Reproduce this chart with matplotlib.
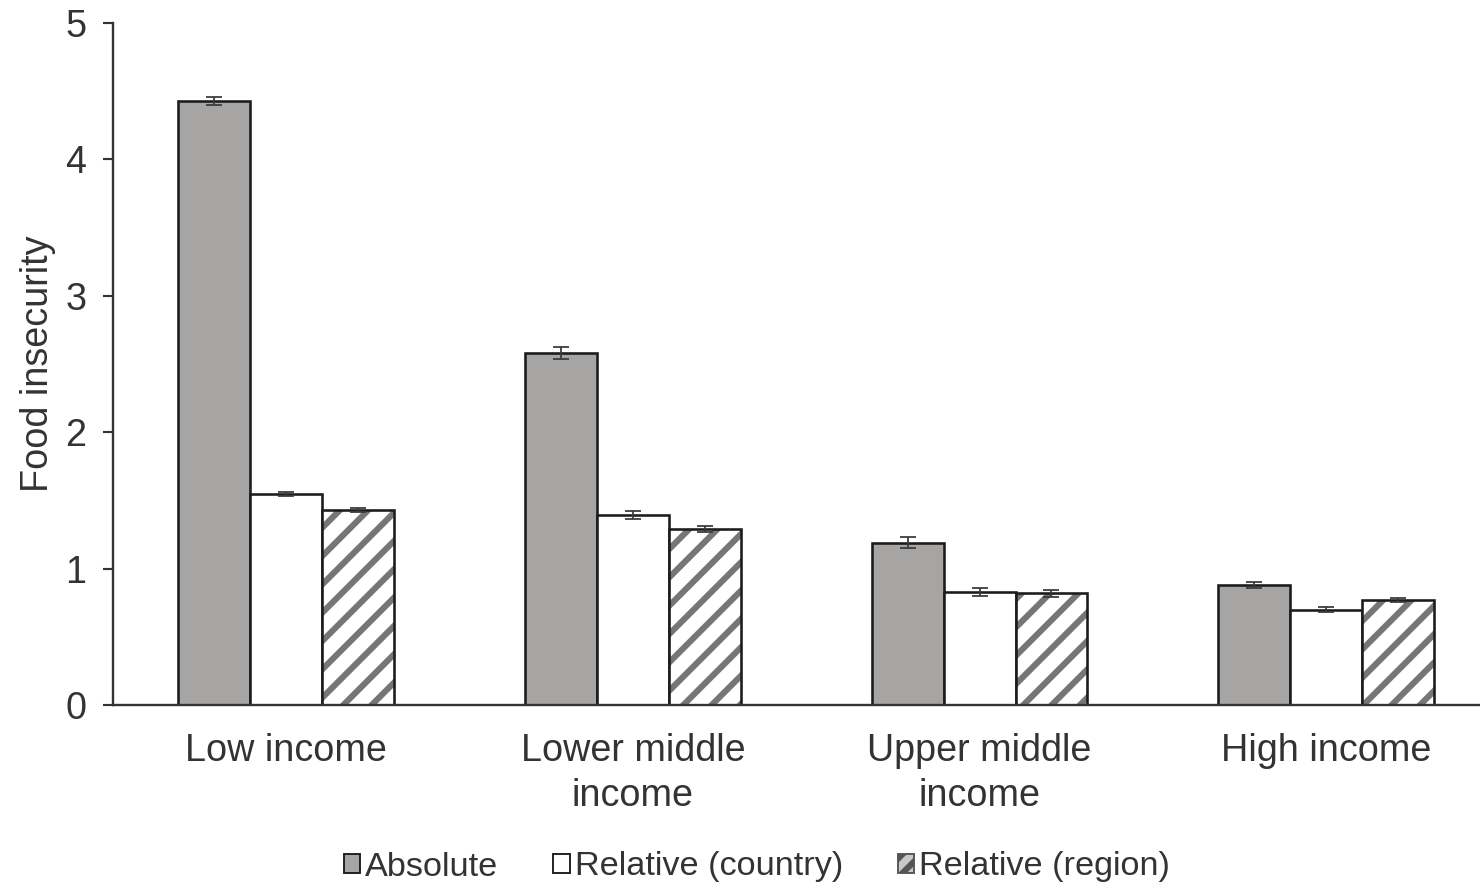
import matplotlib
matplotlib.use("Agg")
import matplotlib.pyplot as plt
import numpy as np
from matplotlib.patches import Patch

plt.rcParams['font.family'] = ['Liberation Sans', 'DejaVu Sans']
plt.rcParams['hatch.linewidth'] = 2.6

categories = ["Low income", "Lower middle\nincome", "Upper middle\nincome", "High income"]
series_names = ["Absolute", "Relative (country)", "Relative (region)"]
absolute = [4.43, 2.58, 1.19, 0.88]
relative_country = [1.55, 1.39, 0.83, 0.70]
relative_region = [1.43, 1.29, 0.82, 0.77]
err_absolute = [0.03, 0.045, 0.04, 0.02]
err_country = [0.015, 0.03, 0.03, 0.015]
err_region = [0.015, 0.025, 0.025, 0.015]
yticks = [0, 1, 2, 3, 4, 5]

DPI = 170
fig = plt.figure(figsize=(1481 / DPI, 884 / DPI), dpi=DPI)
ax = fig.add_axes([113 / 1481, 179 / 884, (1499.5 - 113) / 1481, 682 / 884])

x = np.arange(len(categories))
w = 0.2075
edge = '#1c1c1c'
hatch_col = '#767676'
lw = 1.1
fills = ['#a7a4a4', 'white', 'white']
hatches = [None, None, '//']
data = [absolute, relative_country, relative_region]
errs = [err_absolute, err_country, err_region]
for i, (vals, er, fc, h, name) in enumerate(zip(data, errs, fills, hatches, series_names)):
    pos = x + (i - 1) * w
    if h:
        ax.bar(pos, vals, width=w, facecolor=fc, edgecolor=hatch_col, linewidth=0,
               hatch=h, zorder=2)
        ax.bar(pos, vals, width=w, facecolor='none', edgecolor=edge, linewidth=lw, zorder=2.5)
    else:
        ax.bar(pos, vals, width=w, facecolor=fc, edgecolor=edge, linewidth=lw, zorder=2)
    ax.errorbar(pos, vals, yerr=er, fmt='none', ecolor='#3a3a3a', elinewidth=0.75,
                capsize=3.4, capthick=0.75, zorder=3)

ax.set_xlim(-0.5, 3.5)
ax.set_ylim(0, 5)
ax.set_yticks(yticks)
ax.set_yticklabels([str(t) for t in yticks])
ax.set_xticks(x)
ax.set_xticklabels(categories, fontsize=16, color='#333333', linespacing=1.3)
ax.tick_params(axis='x', length=0, pad=12)
ax.tick_params(axis='y', length=4.2, width=0.9, color='#333333', pad=7, labelsize=16,
               labelcolor='#333333')
for s in ['top', 'right']:
    ax.spines[s].set_visible(False)
for s in ['left', 'bottom']:
    ax.spines[s].set_color('#333333')
    ax.spines[s].set_linewidth(1.0)
ax.set_ylabel("Food insecurity", fontsize=16, color='#333333', labelpad=4)

handles = [
    Patch(facecolor=fills[0], edgecolor=edge, linewidth=0.8),
    Patch(facecolor=fills[1], edgecolor=edge, linewidth=0.8),
    Patch(facecolor='#c8c8c8', edgecolor='#555555', linewidth=0.8, hatch='///'),
]
leg = fig.legend(handles, series_names, loc='center', bbox_to_anchor=(757 / 1481, 17 / 884),
                 ncol=3, frameon=False,
                 fontsize=14.5, handlelength=0.48, handleheight=0.48, handletextpad=0.15,
                 columnspacing=1.6, borderaxespad=0)
for t in leg.get_texts():
    t.set_color('#333333')

fig.savefig("out.png", dpi=DPI)
